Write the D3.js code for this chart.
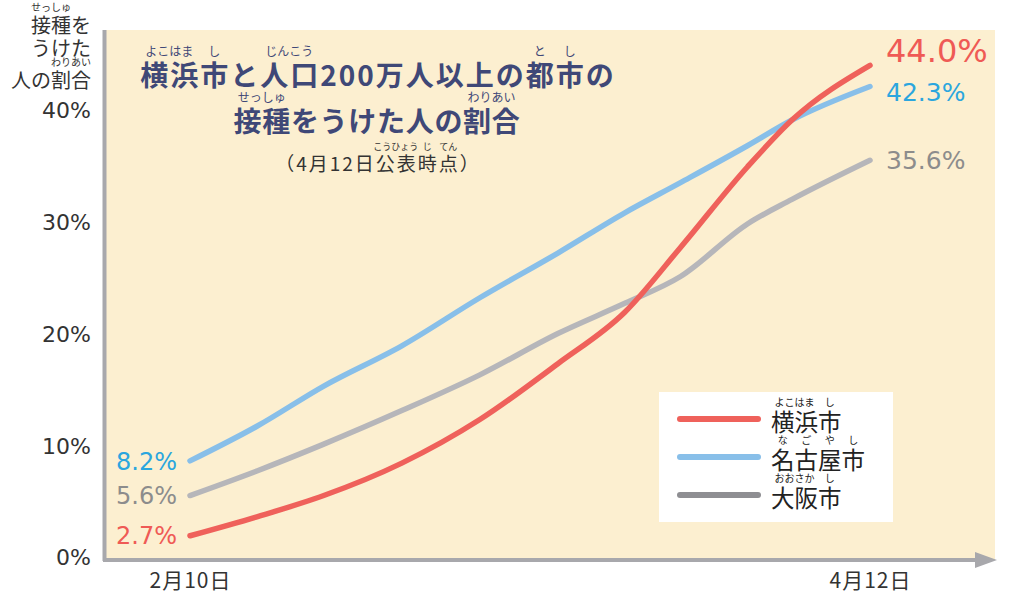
<!DOCTYPE html>
<html lang="ja">
<head>
<meta charset="UTF-8">
<title>横浜市と人口200万人以上の都市の接種をうけた人の割合</title>
<style>
body { margin: 0; background: #fff; }
svg text { font-family: "Noto Sans CJK JP", "Noto Sans", sans-serif; }
</style>
</head>
<body>
<script src="https://cdn.jsdelivr.net/npm/d3@7"></script>
<script>
    // 公表日（読み取り）
    var dates = ["2021-02-10", "2021-02-16", "2021-02-22", "2021-03-01", "2021-03-08",
                 "2021-03-15", "2021-03-21", "2021-03-26", "2021-04-01", "2021-04-05", "2021-04-12"];
    var yokohama = [1.9, 3.6, 5.5, 8.4, 12.3, 17.3, 21.9, 27.7, 34.9, 39.1, 44.0];
    var nagoya   = [8.6, 11.7, 15.3, 18.9, 23.2, 27.2, 30.8, 33.5, 36.8, 39.1, 42.1];
    var osaka    = [5.5, 7.7, 10.1, 13.1, 16.3, 20.0, 22.7, 25.1, 29.8, 32.0, 35.5];
    var startLabels = ["2.7%", "8.2%", "5.6%"];
    var endLabels = ["44.0%", "42.3%", "35.6%"];
    var yTicks = [0, 10, 20, 30, 40];

    var parseDate = d3.timeParse("%Y-%m-%d");
    var dd = dates.map(parseDate);
    var numFont = "'DejaVu Sans', sans-serif";

    var series = [
        { name: [["横浜", "よこはま"], ["市", "し"]], values: yokohama, line: "#ef615b", label: "#ef5a55", legend: "#ef615b", endSize: 32, endDy: -15 },
        { name: [["名", "な"], ["古", "ご"], ["屋", "や"], ["市", "し"]], values: nagoya, line: "#88bfe9", label: "#2ba6de", legend: "#88bfe9", endSize: 25, endDy: 5 },
        { name: [["大阪", "おおさか"], ["市", "し"]], values: osaka, line: "#b6b6ba", label: "#8c8c8c", legend: "#8e8e92", endSize: 25, endDy: 0 }
    ];

    var W = 1012, H = 598;
    var svg = d3.select("body").append("svg").attr("width", W).attr("height", H);

    var x = d3.scaleTime().domain([dd[0], dd[dd.length - 1]]).range([190, 870]);
    var y = d3.scaleLinear().domain([0, 40]).range([557, 110]);

    // 背景
    svg.append("rect").attr("x", 106).attr("y", 30).attr("width", 889).attr("height", 530)
        .attr("fill", "#fcefd0");

    // ルビ付きテキスト
    function ruby(g, x0, y0, parts, size, anchor, color, weight, rsize, ls) {
        var grp = g.append("g");
        var cx = 0;
        var items = [];
        parts.forEach(function(p) {
            var t = grp.append("text").attr("x", cx).attr("y", 0)
                .attr("font-size", size).attr("font-weight", weight || 400)
                .attr("letter-spacing", ls || 0)
                .attr("fill", color).text(p[0]);
            var w = t.node().getComputedTextLength();
            items.push({ x: cx, w: w, r: p[1] });
            cx += w;
        });
        items.forEach(function(it) {
            if (!it.r) return;
            grp.append("text").attr("x", it.x + it.w / 2 - (ls || 0) / 2).attr("y", -size * 1.08)
                .attr("text-anchor", "middle").attr("font-size", rsize || size * 0.42)
                .attr("fill", color).text(it.r);
        });
        var off = anchor === "middle" ? -cx / 2 : anchor === "end" ? -cx : 0;
        grp.attr("transform", "translate(" + (x0 + off) + "," + y0 + ")");
        return grp;
    }

    // タイトル
    var navy = "#3f4877";
    ruby(svg, 378, 86, [["横浜", "よこはま"], ["市", "し"], ["と", ""], ["人口", "じんこう"],
        ["200万人以上の", ""], ["都", "と"], ["市", "し"], ["の", ""]], 28, "middle", navy, 700, 12, 2);
    ruby(svg, 377, 132, [["接種", "せっしゅ"], ["をうけた人の", ""], ["割合", "わりあい"]], 28, "middle", navy, 700, 12, 0.7);
    ruby(svg, 378, 171, [["（4月12日", ""], ["公表", "こうひょう"], ["時", "じ"], ["点", "てん"], ["）", ""]],
        19, "middle", "#333", 400, 9, 2);

    // 縦軸タイトル
    ruby(svg, 91, 33, [["接種", "せっしゅ"], ["を", ""]], 20, "end", "#333", 400, 10);
    ruby(svg, 91, 56, [["うけた", ""]], 20, "end", "#333", 400, 10);
    ruby(svg, 91, 88, [["人の", ""], ["割合", "わりあい"]], 20, "end", "#333", 400, 10);

    // 目盛り
    var yAxis = svg.append("g").attr("transform", "translate(91,0)")
        .call(d3.axisLeft(y).tickValues(yTicks).tickSize(0).tickPadding(0)
            .tickFormat(function(d) { return d + "%"; }));
    yAxis.select(".domain").remove();
    yAxis.selectAll("text").attr("font-size", 22).attr("fill", "#333")
        .style("font-family", numFont).attr("dy", "0.36em");

    var xAxis = svg.append("g").attr("transform", "translate(0,568)")
        .call(d3.axisBottom(x).tickValues([dd[0], dd[dd.length - 1]]).tickSize(0).tickPadding(0)
            .tickFormat(function(d) { return (d.getMonth() + 1) + "月" + d.getDate() + "日"; }));
    xAxis.select(".domain").remove();
    xAxis.selectAll("text").attr("font-size", 21).attr("fill", "#333")
        .attr("letter-spacing", 1).attr("dy", "0.95em");

    // 軸線
    svg.append("line").attr("x1", 104.5).attr("x2", 104.5).attr("y1", 30).attr("y2", 561)
        .attr("stroke", "#a8a8ac").attr("stroke-width", 4);
    svg.append("line").attr("x1", 103).attr("x2", 980).attr("y1", 560).attr("y2", 560)
        .attr("stroke", "#a8a8ac").attr("stroke-width", 4);
    svg.append("path").attr("d", "M975,552L997,560L975,568Z").attr("fill", "#a8a8ac");

    // 折れ線
    var line = d3.line()
        .x(function(d, i) { return x(dd[i]); })
        .y(function(d) { return y(d); })
        .curve(d3.curveMonotoneX);

    // 描画順：大阪、名古屋、横浜
    [2, 1, 0].forEach(function(k) {
        var s = series[k];
        svg.append("path").datum(s.values).attr("d", line)
            .attr("fill", "none").attr("stroke", s.line).attr("stroke-width", 5.5)
            .attr("stroke-linecap", "round").attr("stroke-linejoin", "round");
    });

    // 値ラベル
    series.forEach(function(s, k) {
        var v0 = s.values[0], v1 = s.values[s.values.length - 1];
        svg.append("text").attr("x", 177).attr("y", y(v0)).attr("dy", "0.36em")
            .attr("text-anchor", "end").attr("font-size", 24).attr("fill", s.label)
            .style("font-family", numFont).text(startLabels[k]);
        svg.append("text").attr("x", 886).attr("y", y(v1) + s.endDy).attr("dy", "0.36em")
            .attr("font-size", s.endSize).attr("fill", s.label)
            .style("font-family", numFont).text(endLabels[k]);
    });

    // 凡例
    var lg = svg.append("g");
    lg.append("rect").attr("x", 659).attr("y", 392).attr("width", 234).attr("height", 130).attr("fill", "#fff");
    series.forEach(function(s, k) {
        var ly = 419 + k * 38;
        lg.append("line").attr("x1", 680).attr("x2", 758).attr("y1", ly).attr("y2", ly)
            .attr("stroke", s.legend).attr("stroke-width", 6).attr("stroke-linecap", "round");
        ruby(lg, 771, ly + 12, s.name, 23.5, "start", "#222", 400, 10);
    });
</script>
</body>
</html>
